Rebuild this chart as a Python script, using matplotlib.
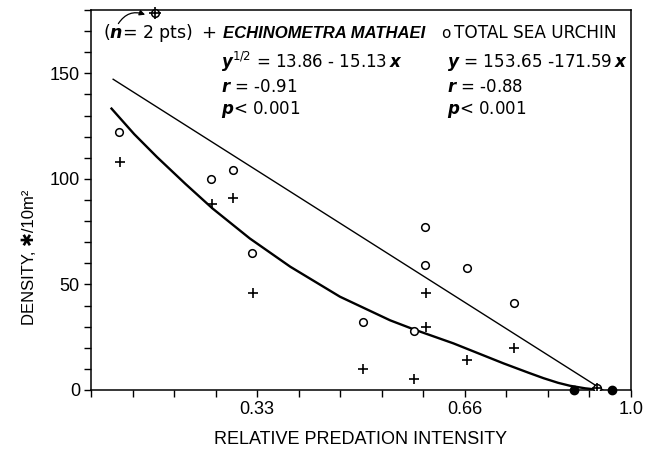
import matplotlib
matplotlib.use('Agg')
import matplotlib.pyplot as plt
import numpy as np

plt.rcParams['font.family'] = ['Liberation Sans', 'DejaVu Sans']
plt.rcParams['mathtext.fontset'] = 'dejavusans'

# total sea urchin (open circles)
total_x = [0.052, 0.222, 0.263, 0.298, 0.504, 0.598, 0.619, 0.619, 0.696, 0.783, 0.937]
total_y = [122, 100, 104, 65, 32, 28, 77, 59, 58, 41, 1]
# Echinometra mathaei (crosses)
echino_x = [0.054, 0.224, 0.263, 0.300, 0.504, 0.598, 0.620, 0.620, 0.696, 0.783, 0.937]
echino_y = [108, 88, 91, 46, 10, 5, 46, 30, 14, 20, 1]
# both zero (filled dots)
zero_x = [0.894, 0.965]
zero_y = [0, 0]
# off-scale point (n = 2 pts)
top_x = [0.119]
top_y = [178.5]

# fitted lines
total_fit_x = [0.041, 0.948]
total_fit_y = [147.2, 0]
echino_fit_x = [0.038, 0.080, 0.122, 0.175, 0.225, 0.294, 0.369, 0.461, 0.554, 0.599,
                0.671, 0.764, 0.810, 0.838, 0.865, 0.887, 0.915, 0.943]
echino_fit_y = [133.3, 121.2, 110.4, 97.6, 86.0, 71.8, 58.4, 44.2, 33.0, 28.6,
                22.1, 12.6, 8.2, 5.6, 3.4, 2.0, 0.8, 0]

xtick_pos = np.arange(14) / 13
xtick_lab = ['' for _ in range(14)]
xtick_lab[4] = '0.33'
xtick_lab[9] = '0.66'
xtick_lab[13] = '1.0'
ytick_pos = np.arange(0, 181, 10)
ytick_lab = [str(v) if v in (0, 50, 100, 150) else '' for v in ytick_pos]

fig = plt.figure(figsize=(6.56, 4.62), dpi=100)
ax = fig.add_axes([91 / 656, 72 / 462, 540 / 656, 380 / 462])

ax.plot(total_fit_x, total_fit_y, color='black', lw=1.0)
ax.plot(echino_fit_x, echino_fit_y, color='black', lw=1.7)
ax.plot(total_x, total_y, 'o', mfc='white', mec='black', ms=5.5, mew=1.1, ls='none', zorder=4)
ax.plot(echino_x, echino_y, '+', color='black', ms=6.5, mew=1.2, ls='none', zorder=4)
ax.plot(zero_x, zero_y, 'o', color='black', ms=6, ls='none', clip_on=False, zorder=5)
ax.plot(top_x, top_y, 'o', mfc='white', mec='black', ms=5.5, mew=1.1, ls='none', clip_on=False, zorder=5)
ax.plot(top_x, top_y, '+', color='black', ms=8, mew=1.2, ls='none', clip_on=False, zorder=6)

ax.set_xlim(0, 1)
ax.set_ylim(0, 180)
ax.set_xticks(xtick_pos)
ax.set_xticklabels(xtick_lab)
ax.set_yticks(ytick_pos)
ax.set_yticklabels(ytick_lab)
ax.tick_params(direction='out', length=5, width=1.0, labelsize=13, pad=3)
for s in ax.spines.values():
    s.set_linewidth(1.1)

ax.set_xlabel('RELATIVE PREDATION INTENSITY', fontsize=13)
ax.xaxis.set_label_coords(0.5, -0.108)
ax.set_ylabel('DENSITY, \u2731/10m\u00b2', fontsize=12)
ax.yaxis.set_label_coords(-0.100, 0.35)

# annotation text
dv = ['DejaVu Sans']
tx = ax.transAxes
ax.text(0.022, 0.939, r'($\boldsymbol{n}$= 2 pts)', transform=tx, fontsize=12.5,
        va='center', family=dv)
ax.annotate('', xy=(0.105, 0.985), xytext=(0.048, 0.958), xycoords='axes fraction',
            arrowprops=dict(arrowstyle='-|>', connectionstyle='arc3,rad=-0.45',
                            lw=0.9, color='black', mutation_scale=8))
ax.text(0.217, 0.939, '+', transform=tx, fontsize=13, va='center', ha='center', family=dv)
ax.text(0.244, 0.939, 'ECHINOMETRA MATHAEI', transform=tx, fontsize=12,
        va='center', weight='bold', style='italic')
ax.text(0.657, 0.939, 'o', transform=tx, fontsize=11, va='center', ha='center', family=dv)
ax.text(0.672, 0.939, 'TOTAL SEA URCHIN', transform=tx, fontsize=12.2, va='center', family=dv)

ax.text(0.241, 0.863, r'$\boldsymbol{y}^{1/2}$ = 13.86 - 15.13$\,\boldsymbol{x}$', transform=tx,
        fontsize=12, va='center', family=dv)
ax.text(0.659, 0.863, r'$\boldsymbol{y}$ = 153.65 -171.59$\,\boldsymbol{x}$', transform=tx,
        fontsize=12.2, va='center', family=dv)
ax.text(0.241, 0.797, r'$\boldsymbol{r}$ = -0.91', transform=tx, fontsize=12, va='center', family=dv)
ax.text(0.659, 0.797, r'$\boldsymbol{r}$ = -0.88', transform=tx, fontsize=12, va='center', family=dv)
ax.text(0.241, 0.737, r'$\boldsymbol{p}$< 0.001', transform=tx, fontsize=12, va='center', family=dv)
ax.text(0.659, 0.737, r'$\boldsymbol{p}$< 0.001', transform=tx, fontsize=12, va='center', family=dv)

fig.savefig('out.png', dpi=100)
